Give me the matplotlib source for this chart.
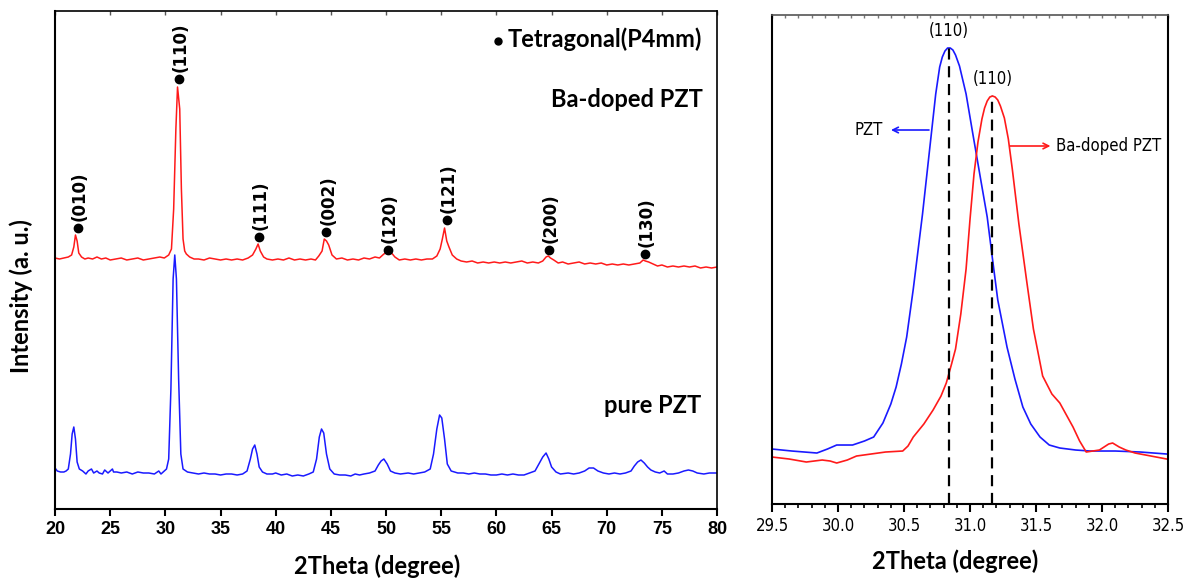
import matplotlib
matplotlib.use("Agg")
import matplotlib.pyplot as plt
from matplotlib.ticker import MultipleLocator, FormatStrFormatter

# ---- left panel: full XRD patterns (intensity in arbitrary units) ----
pzt_x = [20.0, 20.2, 20.5, 20.8, 21.0, 21.2, 21.4, 21.55, 21.7, 21.85, 22.0, 22.2, 22.5, 22.8,
         23.0, 23.3, 23.5, 23.8, 24.0, 24.3, 24.5, 24.8, 25.2, 25.3, 25.6, 26.0, 26.5, 27.0,
         27.5, 28.0, 28.5, 29.0, 29.4, 29.6, 29.9, 30.1, 30.3, 30.5, 30.7, 30.85, 31.0, 31.2,
         31.4, 31.6, 32.0, 32.5, 33.0, 33.5, 34.0, 34.5, 35.0, 35.5, 36.0, 36.5, 37.0, 37.4,
         37.7, 37.9, 38.1, 38.3, 38.5, 38.8, 39.2, 39.7, 40.0, 40.5, 41.0, 41.5, 42.0, 42.5,
         43.0, 43.4, 43.7, 43.95, 44.15, 44.35, 44.6, 44.9, 45.3, 45.8, 46.3, 46.8, 47.2, 47.6,
         48.0, 48.5, 49.0, 49.3, 49.55, 49.8, 50.1, 50.4, 50.8, 51.3, 52.0, 52.5, 53.0, 53.5,
         54.0, 54.3, 54.6, 54.85, 55.05, 55.3, 55.55, 55.9, 56.5, 57.0, 57.5, 58.0, 58.5, 59.0,
         59.5, 60.0, 60.5, 61.0, 61.5, 62.0, 62.5, 63.0, 63.5, 63.9, 64.2, 64.5, 64.75, 65.0,
         65.4, 65.8, 66.5, 67.0, 67.5, 68.0, 68.4, 68.8, 69.2, 69.7, 70.2, 70.7, 71.2, 71.7,
         72.2, 72.5, 72.8, 73.1, 73.4, 73.7, 74.0, 74.4, 74.8, 75.2, 75.5, 76.0, 76.5, 77.0,
         77.4, 77.8, 78.2, 78.8, 79.3, 80.0]
pzt_y = [41, 38, 37, 37, 38, 40, 55, 75, 82, 70, 47, 40, 38, 35,
         38, 40, 36, 38, 36, 35, 39, 36, 40, 37, 37, 36, 37, 35,
         37, 36, 36, 35, 38, 35, 38, 40, 50, 120, 230, 254, 230, 130,
         55, 40, 37, 36, 35, 36, 35, 35, 34, 35, 35, 34, 35, 38,
         50, 60, 64, 55, 42, 37, 35, 35, 36, 34, 35, 33, 34, 33,
         35, 37, 50, 72, 80, 76, 55, 40, 35, 34, 34, 33, 35, 34,
         35, 36, 38, 44, 48, 50, 45, 38, 36, 35, 36, 35, 36, 37,
         40, 55, 80, 94, 91, 70, 45, 38, 36, 36, 35, 36, 35, 35,
         34, 34, 35, 34, 35, 34, 34, 36, 38, 46, 52, 56, 50, 42,
         37, 35, 36, 35, 36, 38, 41, 41, 38, 36, 35, 36, 35, 36,
         38, 43, 47, 49, 46, 42, 39, 37, 36, 38, 35, 35, 36, 38,
         39, 38, 36, 35, 36, 36]

ba_x = [20.0, 20.4, 20.8, 21.2, 21.5, 21.7, 21.85, 22.0, 22.15, 22.4, 22.7, 23.0, 23.4, 23.8,
        24.2, 24.6, 25.0, 25.5, 26.0, 26.5, 27.0, 27.5, 28.0, 28.5, 29.0, 29.5, 29.9, 30.3,
        30.55, 30.75, 30.95, 31.1, 31.3, 31.45, 31.6, 31.75, 31.9, 32.2, 32.6, 33.0, 33.5, 34.0,
        34.5, 35.0, 35.5, 36.0, 36.5, 37.0, 37.5, 37.9, 38.2, 38.4, 38.6, 38.9, 39.2, 39.7,
        40.2, 40.7, 41.2, 41.7, 42.2, 42.7, 43.2, 43.6, 43.9, 44.2, 44.4, 44.6, 44.8, 45.1,
        45.5, 46.0, 46.5, 47.0, 47.5, 48.0, 48.5, 49.0, 49.4, 49.8, 50.1, 50.3, 50.5, 50.8,
        51.2, 51.7, 52.2, 52.7, 53.2, 53.7, 54.2, 54.6, 54.9, 55.1, 55.3, 55.5, 55.7, 56.0,
        56.4, 56.8, 57.3, 57.8, 58.3, 58.8, 59.3, 59.8, 60.3, 60.8, 61.3, 61.8, 62.3, 62.8,
        63.3, 63.8, 64.2, 64.5, 64.7, 64.9, 65.2, 65.6, 66.0, 66.5, 67.0, 67.5, 68.0, 68.5,
        69.0, 69.5, 70.0, 70.5, 71.0, 71.5, 72.0, 72.5, 73.0, 73.3, 73.5, 73.8, 74.2, 74.6,
        75.0, 75.5, 76.0, 76.5, 77.0, 77.5, 78.0, 78.5, 79.0, 79.5, 80.0]
ba_y = [251, 250, 251, 252, 254, 262, 274, 268, 256, 252, 250, 251, 250, 252,
        250, 251, 249, 250, 251, 249, 250, 251, 249, 250, 251, 252, 251, 254,
        260, 300, 380, 422, 400, 320, 270, 258, 255, 252, 250, 250, 249, 251,
        250, 249, 250, 249, 250, 249, 251, 254, 260, 265, 258, 252, 250, 249,
        250, 249, 251, 249, 250, 249, 250, 249, 253, 258, 270, 268, 264, 254,
        250, 251, 249, 250, 249, 251, 250, 252, 251, 255, 257, 260, 256, 252,
        249, 250, 249, 250, 249, 250, 250, 253, 260, 270, 281, 268, 262, 254,
        250, 248, 247, 248, 246, 247, 246, 247, 246, 247, 246, 247, 248, 246,
        247, 246, 248, 252, 253, 251, 249, 246, 247, 245, 246, 247, 245, 246,
        245, 246, 244, 245, 244, 245, 244, 245, 246, 249, 248, 247, 245, 243,
        244, 242, 243, 242, 243, 242, 243, 241, 242, 241, 242]

peak_labels = ["(010)", "(110)", "(111)", "(002)", "(120)", "(121)", "(200)", "(130)"]
peak_x = [22.1, 31.2, 38.5, 44.6, 50.2, 55.5, 64.8, 73.5]
peak_y = [281, 430, 272, 277, 259, 289, 259, 255]

# ---- right panel: zoom on the (110) reflection ----
z_pzt_x = [29.5, 29.65, 29.84, 29.92, 29.99, 30.11, 30.2, 30.27, 30.34, 30.4, 30.44, 30.48,
           30.52, 30.57, 30.64, 30.71, 30.74, 30.77, 30.79, 30.81, 30.83, 30.85, 30.87, 30.89,
           30.92, 30.97, 31.02, 31.08, 31.13, 31.17, 31.21, 31.28, 31.34, 31.40, 31.46, 31.53,
           31.6, 31.68, 31.8, 31.91, 32.1, 32.29, 32.49]
z_pzt_y = [55, 53, 51, 55, 59, 59, 63, 67, 81, 100, 117, 140,
           167, 215, 290, 374, 410, 437, 447, 453, 456, 456, 454, 449,
           438, 410, 371, 325, 287, 245, 204, 157, 125, 97, 80, 67,
           59, 56, 54, 53, 53, 52, 50]
z_ba_x = [29.5, 29.63, 29.76, 29.88, 29.94, 29.99, 30.07, 30.14, 30.25, 30.36, 30.49, 30.53,
          30.57, 30.65, 30.72, 30.78, 30.82, 30.86, 30.89, 30.93, 30.97, 31.0, 31.03, 31.06,
          31.09, 31.11, 31.13, 31.15, 31.17, 31.19, 31.21, 31.23, 31.26, 31.29, 31.32, 31.37,
          31.43, 31.48, 31.55, 31.62, 31.68, 31.73, 31.78, 31.83, 31.88, 31.93, 31.98, 32.05,
          32.08, 32.13, 32.18, 32.25, 32.33, 32.41, 32.49]
z_ba_y = [47, 45, 42, 44, 43, 41, 44, 48, 50, 52, 53, 58,
          67, 80, 94, 108, 121, 140, 155, 190, 235, 285, 330, 362,
          385, 396, 403, 407, 408, 407, 404, 398, 386, 365, 335, 280,
          222, 175, 128, 110, 101, 89, 77, 63, 52, 53, 54, 60,
          61, 57, 54, 51, 49, 47, 45]
z_peak_pzt = (30.84, 457)
z_peak_ba = (31.17, 409)

label_font = "Lato"
narrow = "DejaVu Sans"

fig = plt.figure(figsize=(11.89, 5.79), dpi=100)
ax1 = fig.add_axes([0.0463, 0.1209, 0.5568, 0.8601])
ax2 = fig.add_axes([0.6493, 0.1295, 0.3331, 0.8446])

# left
ax1.plot(ba_x, ba_y, color="#ff1a1a", lw=1.1)
ax1.plot(pzt_x, pzt_y, color="#1a1aff", lw=1.1)
ax1.plot(peak_x, peak_y, "o", color="black", ms=6)
for lab, px, py in zip(peak_labels, peak_x, peak_y):
    ax1.text(px + 0.15, py + 7, lab, rotation=90, ha="center", va="bottom",
             fontsize=12, family="DejaVu Sans", fontweight="bold")
ax1.plot([60.15], [468], "o", color="black", ms=5)
ax1.text(61.0, 470, "Tetragonal(P4mm)", ha="left", va="center", fontsize=17,
         family=label_font, fontweight="bold")
ax1.text(78.7, 410, "Ba-doped PZT", ha="right", va="center", fontsize=17,
         family=label_font, fontweight="bold")
ax1.text(78.6, 103, "pure PZT", ha="right", va="center", fontsize=17,
         family=label_font, fontweight="bold")

ax1.set_xlim(20, 80)
ax1.set_ylim(0, 498)
ax1.set_yticks([])
ax1.xaxis.set_major_locator(MultipleLocator(5))
ax1.tick_params(axis="x", direction="out", length=5, width=1.5, labelsize=13)
for lab in ax1.get_xticklabels():
    lab.set_fontweight("bold")
    lab.set_family("Liberation Sans")
top1 = ax1.secondary_xaxis("top")
top1.xaxis.set_major_locator(MultipleLocator(5))
top1.tick_params(axis="x", direction="in", length=3, width=1, labeltop=False, color="#555555")
top1.spines["top"].set_visible(False)
ax1.set_xlabel("2Theta (degree)", fontsize=17, family=label_font, fontweight="bold")
ax1.xaxis.set_label_coords(0.486, -0.092)
ax1.set_ylabel("Intensity (a. u.)", fontsize=17, family=label_font, fontweight="bold")
ax1.yaxis.set_label_coords(-0.034, 0.428)
for s in ax1.spines.values():
    s.set_linewidth(1.5)
ax1.spines["top"].set_linewidth(1.2)
ax1.spines["right"].set_linewidth(1.2)

# right
ax2.plot(z_pzt_x, z_pzt_y, color="#1a1aff", lw=1.2)
ax2.plot(z_ba_x, z_ba_y, color="#ff1a1a", lw=1.2)
ax2.plot([z_peak_pzt[0], z_peak_pzt[0]], [0, z_peak_pzt[1]], "--", color="black", lw=1.6, dashes=(5, 3))
ax2.plot([z_peak_ba[0], z_peak_ba[0]], [0, z_peak_ba[1]], "--", color="black", lw=1.6, dashes=(5, 3))
ax2.text(z_peak_pzt[0], z_peak_pzt[1] + 7, "(110)", ha="center", va="bottom", fontsize=12,
         family=narrow, fontstretch="condensed")
ax2.text(z_peak_ba[0], z_peak_ba[1] + 7, "(110)", ha="center", va="bottom", fontsize=12,
         family=narrow, fontstretch="condensed")
ax2.annotate("", xy=(30.38, 374), xytext=(30.71, 374),
             arrowprops=dict(arrowstyle="->", color="#1a1aff", lw=1.2))
ax2.text(30.34, 374, "PZT", ha="right", va="center", fontsize=12, family=narrow, fontstretch="condensed")
ax2.annotate("", xy=(31.63, 358), xytext=(31.28, 358),
             arrowprops=dict(arrowstyle="->", color="#ff1a1a", lw=1.2))
ax2.text(31.65, 358, "Ba-doped PZT", ha="left", va="center", fontsize=12, family=narrow,
         fontstretch="condensed")

ax2.set_xlim(29.5, 32.5)
ax2.set_ylim(0, 489)
ax2.set_yticks([])
ax2.xaxis.set_major_locator(MultipleLocator(0.5))
ax2.xaxis.set_minor_locator(MultipleLocator(0.1))
ax2.xaxis.set_major_formatter(FormatStrFormatter("%.1f"))
ax2.tick_params(axis="x", which="major", direction="out", length=6, width=1.5, labelsize=12)
ax2.tick_params(axis="x", which="minor", direction="out", length=3, width=1.2)
for lab in ax2.get_xticklabels():
    lab.set_family(narrow)
    lab.set_fontstretch("condensed")
top2 = ax2.secondary_xaxis("top")
top2.xaxis.set_major_locator(MultipleLocator(0.1))
top2.tick_params(axis="x", direction="in", length=2, width=1, labeltop=False, color="#777777")
top2.spines["top"].set_visible(False)
ax2.set_xlabel("2Theta (degree)", fontsize=17, family=label_font, fontweight="bold")
ax2.xaxis.set_label_coords(0.462, -0.092)
for s in ax2.spines.values():
    s.set_linewidth(1.5)
ax2.spines["top"].set_color("#555555")
ax2.spines["top"].set_linewidth(1.2)

fig.savefig("out.png", dpi=100)
